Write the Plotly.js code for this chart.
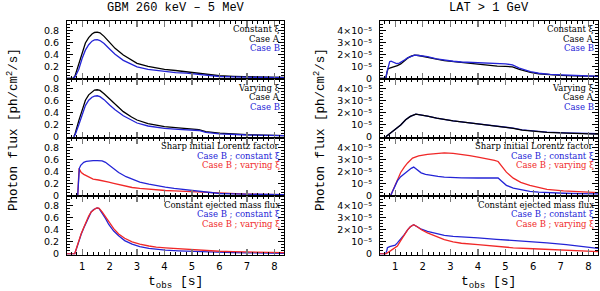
<!DOCTYPE html>
<html>
<head>
<meta charset="utf-8">
<script src="https://cdn.plot.ly/plotly-3.0.1.min.js"></script>
<style>html,body{margin:0;padding:0;background:#fff}#chart{width:600px;height:291px}</style>
</head>
<body>
<div id="chart"></div>
<script>
// ---------------- DATA ----------------
const columnTitles = ["GBM 260 keV \u2013 5 MeV", "LAT > 1 GeV"];
const rowLabels = [
  ["Constant \u03be", "Case A", "Case B"],
  ["Varying \u03be", "Case A", "Case B"],
  ["Sharp initial Lorentz factor", "Case B ; constant \u03be", "Case B ; varying \u03be"],
  ["Constant ejected mass flux", "Case B ; constant \u03be", "Case B ; varying \u03be"]
];
const gbmTicks = [0, 0.2, 0.4, 0.6, 0.8];
const gbmTickText = ["0", "0.2", "0.4", "0.6", "0.8"];
const latTicks = [0, 1, 2, 3, 4];           // in units of 1e-5
const latTickText = ["0", "10\u207b\u2075", "2\u00d710\u207b\u2075", "3\u00d710\u207b\u2075", "4\u00d710\u207b\u2075"];

// GBM (ph/cm2/s) -- row 1 constant xi
const gbmConstA_t = [0.45,0.68,0.75,0.88,1.0,1.12,1.24,1.36,1.45,1.55,1.65,1.8,2.0,2.2,2.5,2.8,3.0,3.4,3.7,4.0,4.4,4.8,5.1,5.5,6.0,6.5,7.0,7.5,8.0,8.4];
const gbmConstA_f = [0,0,0.05,0.24,0.44,0.59,0.68,0.74,0.765,0.77,0.76,0.7,0.6,0.5,0.39,0.3,0.25,0.2,0.175,0.15,0.13,0.11,0.095,0.065,0.042,0.032,0.025,0.02,0.016,0.013];
const gbmConstB_t = gbmConstA_t;
const gbmConstB_f = [0,0,0.03,0.15,0.33,0.47,0.56,0.62,0.64,0.645,0.63,0.58,0.49,0.4,0.3,0.23,0.19,0.15,0.13,0.11,0.095,0.085,0.07,0.048,0.03,0.022,0.017,0.013,0.011,0.009];
// row 2 varying xi
const gbmVarA_t = [0.7,0.75,0.88,1.0,1.12,1.24,1.36,1.45,1.55,1.65,1.8,2.0,2.2,2.5,2.8,3.0,3.4,4.0,4.5,5.0,5.25,5.5,6.0,7.0,8.0,8.4];
const gbmVarA_f = [0,0.06,0.27,0.46,0.61,0.7,0.755,0.78,0.785,0.775,0.72,0.63,0.54,0.42,0.33,0.28,0.22,0.17,0.15,0.13,0.12,0.085,0.06,0.035,0.025,0.02];
const gbmVarB_t = gbmVarA_t;
const gbmVarB_f = [0,0.04,0.2,0.38,0.52,0.61,0.66,0.68,0.685,0.67,0.62,0.53,0.45,0.35,0.27,0.23,0.18,0.14,0.125,0.11,0.105,0.075,0.05,0.03,0.02,0.018];
// row 3 sharp initial Lorentz factor
const gbmSharpConst_t = [0.84,0.87,0.9,0.95,1.0,1.06,1.15,1.25,1.4,1.55,1.73,1.85,1.97,2.15,2.33,2.6,2.82,3.1,3.43,3.7,4.03,4.35,4.64,4.9,5.1,5.5,6.0,6.5,7.0,7.5,8.0,8.4];
const gbmSharpConst_f = [0,0.3,0.45,0.5,0.53,0.55,0.565,0.575,0.58,0.58,0.575,0.55,0.51,0.44,0.38,0.31,0.27,0.22,0.185,0.16,0.135,0.115,0.1,0.08,0.065,0.045,0.03,0.022,0.016,0.012,0.01,0.009];
const gbmSharpVar_t = [0.84,0.86,0.89,0.92,0.97,1.06,1.24,1.4,1.6,1.8,1.97,2.15,2.33,2.6,2.82,3.1,3.43,3.7,4.03,4.35,4.64,4.9,5.1,5.5,6.0,6.5,7.0,7.5,8.0,8.4];
const gbmSharpVar_f = [0,0.3,0.45,0.42,0.38,0.35,0.3,0.27,0.255,0.24,0.22,0.2,0.18,0.15,0.13,0.115,0.1,0.09,0.08,0.072,0.066,0.058,0.05,0.04,0.03,0.024,0.02,0.016,0.014,0.012];
// row 4 constant ejected mass flux
const gbmMassConst_t = [0.45,0.73,0.8,0.88,0.97,1.06,1.15,1.24,1.33,1.42,1.5,1.55,1.62,1.73,1.85,1.97,2.15,2.33,2.55,2.82,3.1,3.43,3.7,4.03,4.5,5.0,5.5,6.0,6.5,7.0,7.5,8.0,8.4];
const gbmMassConst_f = [0,0,0.09,0.21,0.33,0.43,0.53,0.63,0.7,0.74,0.76,0.765,0.755,0.68,0.59,0.49,0.38,0.3,0.22,0.16,0.12,0.09,0.075,0.06,0.05,0.04,0.032,0.025,0.02,0.015,0.012,0.01,0.009];
const gbmMassVar_t = gbmMassConst_t;
const gbmMassVar_f = [0,0,0.1,0.22,0.34,0.44,0.54,0.63,0.7,0.74,0.76,0.765,0.76,0.7,0.62,0.52,0.42,0.33,0.26,0.2,0.16,0.13,0.11,0.1,0.085,0.065,0.052,0.042,0.036,0.03,0.025,0.02,0.018];

// LAT (units of 1e-5 ph/cm2/s)
const latConstA_t = [0.45,0.66,0.7,0.74,0.8,0.96,1.08,1.2,1.33,1.45,1.58,1.7,1.85,2.17,2.5,2.78,3.1,3.4,3.7,4.0,4.35,4.7,5.0,5.25,5.5,5.9,6.2,6.6,7.0,7.5,8.0,8.4];
const latConstA_f = [0,0,0.45,0.8,0.85,0.93,1.05,1.2,1.45,1.68,1.85,1.93,1.9,1.78,1.6,1.48,1.4,1.32,1.25,1.18,1.1,1.02,0.99,0.96,0.75,0.5,0.38,0.3,0.25,0.2,0.17,0.15];
const latConstB_t = [0.45,0.66,0.7,0.75,0.8,0.85,0.9,0.95,1.05,1.15,1.25,1.35,1.45,1.58,1.7,1.85,2.17,2.5,2.78,3.1,3.4,3.7,4.0,4.35,4.7,5.0,5.25,5.5,5.9,6.2,6.6,7.0,7.5,8.0,8.4];
const latConstB_f = [0,0,0.5,1.1,1.38,1.42,1.36,1.28,1.23,1.27,1.38,1.55,1.7,1.85,1.93,1.9,1.8,1.62,1.5,1.42,1.36,1.34,1.32,1.29,1.26,1.2,1.12,0.85,0.55,0.42,0.32,0.27,0.22,0.19,0.17];
const latVarA_t = [0.66,0.8,0.95,1.08,1.2,1.38,1.55,1.75,1.9,2.17,2.5,2.78,3.1,3.4,3.7,4.0,4.35,4.72,5.0,5.28,5.6,6.0,6.5,7.2,7.8,8.4];
const latVarA_f = [0,0.25,0.5,0.74,0.98,1.42,1.7,1.89,1.85,1.72,1.56,1.44,1.33,1.24,1.16,1.07,0.98,0.88,0.8,0.71,0.55,0.44,0.36,0.3,0.25,0.22];
const latVarB_t = latVarA_t;
const latVarB_f = [0,0.25,0.5,0.74,0.98,1.42,1.7,1.89,1.85,1.72,1.56,1.44,1.33,1.24,1.16,1.07,0.98,0.88,0.8,0.72,0.58,0.47,0.39,0.33,0.28,0.25];
const latSharpConst_t = [0.84,0.95,1.08,1.2,1.33,1.45,1.58,1.67,1.8,1.94,2.1,2.3,2.55,2.78,3.1,3.4,4.0,4.4,4.73,4.85,5.03,5.28,5.55,5.88,6.2,6.5,7.1,7.7,8.4];
const latSharpConst_f = [0,0.55,1.2,1.55,1.8,2.02,2.25,2.35,2.1,1.87,1.75,1.66,1.57,1.52,1.48,1.46,1.44,1.44,1.44,1.2,0.83,0.6,0.45,0.33,0.26,0.22,0.17,0.14,0.12];
const latSharpVar_t = [0.84,0.95,1.08,1.2,1.33,1.45,1.63,1.85,2.17,2.5,2.78,3.1,3.39,3.7,4.0,4.3,4.6,4.73,4.85,5.03,5.28,5.55,5.88,6.2,6.5,7.1,7.7,8.4];
const latSharpVar_f = [0,0.6,1.38,1.9,2.35,2.7,3.1,3.28,3.42,3.5,3.53,3.5,3.42,3.3,3.18,3.07,2.92,2.82,2.45,1.93,1.43,1.08,0.83,0.63,0.5,0.36,0.28,0.22];
const latMassConst_t = [0.45,0.66,0.7,0.72,0.8,0.9,1.0,1.08,1.2,1.33,1.45,1.55,1.67,1.8,1.95,2.17,2.5,2.78,3.1,3.4,4.0,4.67,5.28,6.0,6.5,7.2,7.7,8.0,8.4];
const latMassConst_f = [0,0,0.3,0.5,0.6,0.63,0.72,0.91,1.2,1.6,2.0,2.25,2.43,2.25,2.05,1.87,1.67,1.54,1.46,1.4,1.32,1.21,1.13,0.98,0.91,0.77,0.63,0.53,0.44];
const latMassVar_t = [0.45,0.66,0.8,0.9,1.0,1.08,1.2,1.33,1.45,1.55,1.67,1.8,1.95,2.17,2.5,2.78,3.1,3.4,4.0,4.67,5.28,6.0,6.5,7.2,7.7,8.4];
const latMassVar_f = [0,0,0.2,0.35,0.5,0.65,1.1,1.6,2.0,2.25,2.43,2.25,2.0,1.74,1.42,1.18,1.0,0.88,0.77,0.62,0.5,0.42,0.36,0.28,0.22,0.17];

// ---------------- STYLE / LAYOUT ----------------
const BLACK = "#000000", BLUE = "#2424d6", RED = "#f02828";
const W = 600, H = 291;
const colX = [[67, 284], [380, 598]];
const rowTop = 20.5, rowH = 58.5;
const xRange = [0.45, 8.35];
const yRanges = [[-0.012, 0.965], [-0.06, 4.82]];

const panels = [
  [[gbmConstA_t, gbmConstA_f, BLACK], [gbmConstB_t, gbmConstB_f, BLUE]],
  [[gbmVarA_t, gbmVarA_f, BLACK], [gbmVarB_t, gbmVarB_f, BLUE]],
  [[gbmSharpVar_t, gbmSharpVar_f, RED], [gbmSharpConst_t, gbmSharpConst_f, BLUE]],
  [[gbmMassConst_t, gbmMassConst_f, BLUE], [gbmMassVar_t, gbmMassVar_f, RED]],
  [[latConstA_t, latConstA_f, BLACK], [latConstB_t, latConstB_f, BLUE]],
  [[latVarB_t, latVarB_f, BLUE], [latVarA_t, latVarA_f, BLACK]],
  [[latSharpVar_t, latSharpVar_f, RED], [latSharpConst_t, latSharpConst_f, BLUE]],
  [[latMassConst_t, latMassConst_f, BLUE], [latMassVar_t, latMassVar_f, RED]]
];
const labelColors = [[BLACK, BLACK, BLUE], [BLACK, BLACK, BLUE], [BLACK, BLUE, RED], [BLACK, BLUE, RED]];

const data = [];
const layout = {
  width: W, height: H,
  margin: {l: 0, r: 0, t: 0, b: 0},
  paper_bgcolor: "#fff", plot_bgcolor: "#fff",
  showlegend: false,
  annotations: []
};
const yTickFont = {family: "DejaVu Sans", size: 9.5, color: "#000"};
const xTickFont = {family: "DejaVu Sans", size: 10, color: "#000"};
const annFont = {family: "DejaVu Serif", size: 8.5, color: "#000"};

for (let c = 0; c < 2; c++) {
  for (let r = 0; r < 4; r++) {
    const k = c * 4 + r + 1;
    const xs = k === 1 ? "" : String(k);
    const top = rowTop + r * rowH, bot = top + rowH;
    layout["xaxis" + xs] = {
      domain: [colX[c][0] / W, colX[c][1] / W],
      range: xRange, anchor: "y" + xs,
      showline: true, linecolor: "#000", linewidth: 1, mirror: "ticks",
      ticks: "inside", ticklen: 6, tickwidth: 1.2, tickcolor: "#777",
      tick0: 0, dtick: 1,
      minor: {dtick: 0.2, tick0: 0, ticks: "inside", ticklen: 3, tickcolor: "#000", tickwidth: 1},
      showgrid: false, zeroline: false,
      showticklabels: r === 3, tickfont: xTickFont, ticklabelstandoff: 2
    };
    layout["yaxis" + xs] = {
      domain: [1 - bot / H, 1 - top / H],
      range: yRanges[c], anchor: "x" + xs,
      showline: true, linecolor: "#000", linewidth: 1, mirror: "ticks",
      ticks: "inside", ticklen: 6, tickwidth: 1, tickcolor: "#000",
      tickmode: "array",
      tickvals: c === 0 ? gbmTicks : latTicks,
      ticktext: c === 0 ? gbmTickText : latTickText,
      minor: {dtick: c === 0 ? 0.05 : 0.25, tick0: 0, ticks: "inside", ticklen: 3, tickcolor: "#000", tickwidth: 1},
      showgrid: false, zeroline: false,
      tickfont: yTickFont, ticklabelstandoff: 5
    };
    for (const [t, f, col] of panels[k - 1]) {
      data.push({
        type: "scatter", mode: "lines", x: t, y: f,
        xaxis: "x" + xs, yaxis: "y" + xs,
        line: {color: col, width: 1.3}, hoverinfo: "skip"
      });
    }
    for (let i = 0; i < 3; i++) {
      layout.annotations.push({
        text: rowLabels[r][i], showarrow: false,
        xref: "paper", yref: "paper",
        x: (colX[c][1] - 2) / W, y: 1 - (top + 8.8 + i * 9.5) / H,
        xanchor: "right", yanchor: "middle",
        font: Object.assign({}, annFont, {color: labelColors[r][i]})
      });
    }
  }
  const cx = (colX[c][0] + colX[c][1]) / 2 / W;
  layout.annotations.push({
    text: columnTitles[c], showarrow: false, xref: "paper", yref: "paper",
    x: cx, y: 1 - 7.5 / H, xanchor: "center", yanchor: "middle",
    font: {family: "Liberation Mono", size: 12, color: "#000"}
  });
  layout.annotations.push({
    text: "t<sub>obs</sub> [s]", showarrow: false, xref: "paper", yref: "paper",
    x: cx, y: 1 - 282 / H, xanchor: "center", yanchor: "middle",
    font: {family: "Liberation Mono", size: 13, color: "#000"}
  });
  layout.annotations.push({
    text: "Photon flux [ph/cm<sup>2</sup>/s]", showarrow: false, xref: "paper", yref: "paper",
    x: (c === 0 ? 13 : 320) / W, y: 1 - 130 / H, xanchor: "center", yanchor: "middle",
    textangle: -90,
    font: {family: "Liberation Mono", size: 12.5, color: "#000"}
  });
}

Plotly.newPlot("chart", data, layout, {staticPlot: true, displayModeBar: false});
</script>
</body>
</html>
